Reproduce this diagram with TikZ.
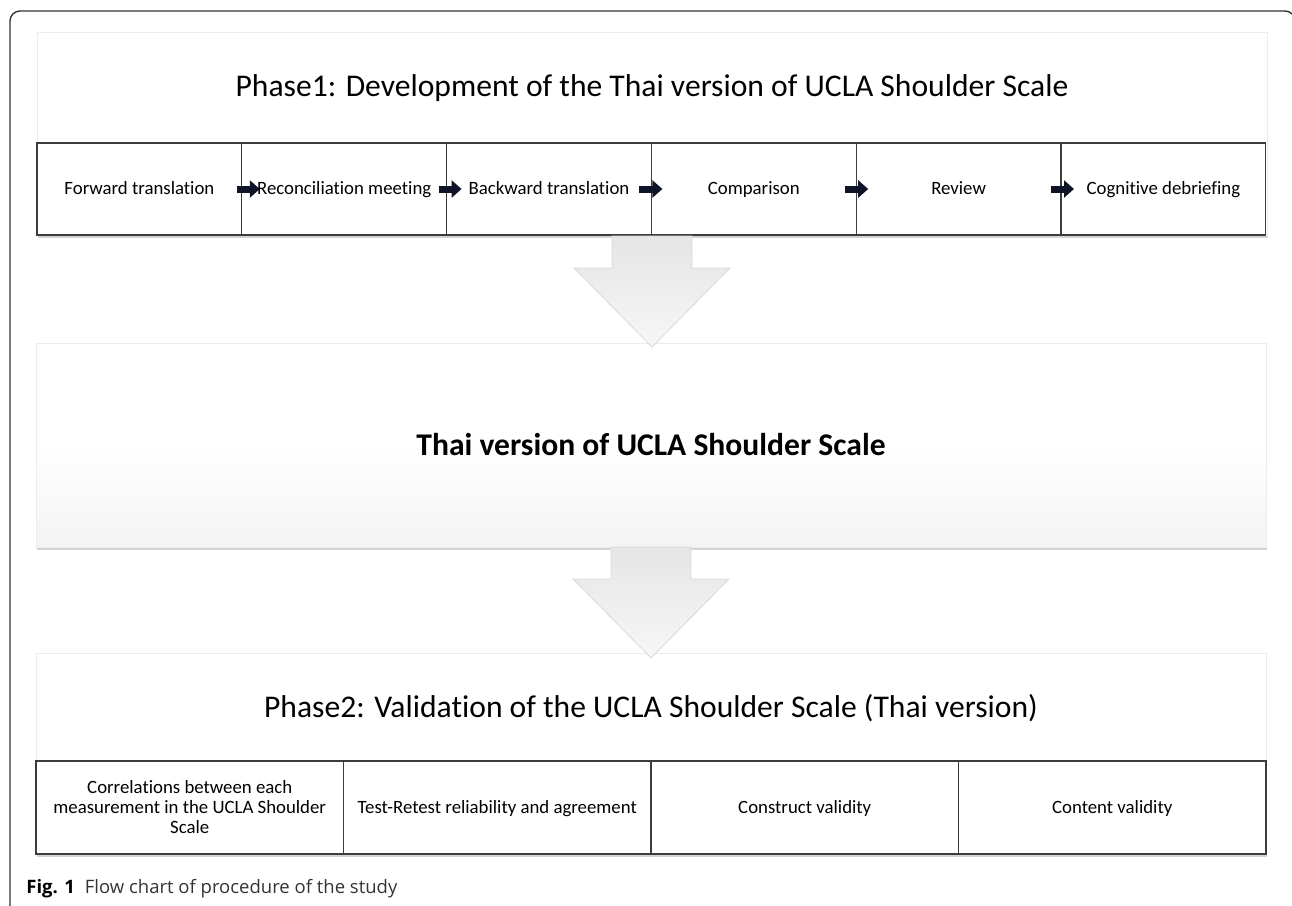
\documentclass[tikz,border=0pt]{standalone}
\usepackage{fontspec}
\setmainfont[Ligatures=NoCommon]{Carlito}
\newfontfamily\capfont{Open Sans}
\usetikzlibrary{arrows.meta,calc,positioning,shadows}
\definecolor{arrowink}{RGB}{16,20,40}
\definecolor{cellline}{RGB}{60,60,60}
\tikzset{%
	panel/.style    = {draw=gray!15, fill=white, minimum width=615pt, outer sep=0pt, drop shadow={shadow xshift=0.5pt, shadow yshift=-1.5pt, opacity=0.35}},
	cellA/.style    = {draw=cellline, line width=0.6pt, fill=white, minimum width=102.4pt, minimum height=46pt, inner sep=0pt, outer sep=0pt, font=\fontsize{9.4}{11}\selectfont, text height=6.5pt, text depth=1pt, text centered},
	cellB/.style    = {draw=cellline, line width=0.6pt, fill=white, minimum width=153.75pt, minimum height=46.5pt, inner sep=0pt, outer sep=0pt, font=\fontsize{9.4}{10}\selectfont, align=center},
	oneline/.style  = {text height=6.5pt, text depth=1pt},
	phase/.style    = {font=\fontsize{15.8}{18}\selectfont},
	steparrow/.style= {line width=3.5pt, draw=arrowink, -{Triangle[width=8.5pt,length=5pt]}},
	bigarrow/.style = {draw=gray!30, line width=0.4pt, top color=gray!20, bottom color=gray!7},
}
\begin{document}
\begin{tikzpicture}[x=0.5pt,y=-0.5pt]
	\useasboundingbox (0,0) rectangle (1292,906);
	% frame round the figure
	\draw[gray!40!black, line width=0.7pt, rounded corners=5pt] (10,930) -- (10,11) -- (1295,11) -- (1295,60);
	
	% phase 1
	\node[panel, minimum height=101.5pt, anchor=north west] (ph1) at (37,32) {};
	\node[phase] (t1) at ($(ph1.north)+(0,56)$) {Phase1: Development of the Thai version of UCLA Shoulder Scale};
	\node[cellA, anchor=north west] (c1) at (37,143) {Forward translation};
	\node[cellA, right=0pt of c1] (c2) {Reconciliation meeting};
	\node[cellA, right=0pt of c2] (c3) {Backward translation};
	\node[cellA, right=0pt of c3] (c4) {Comparison};
	\node[cellA, right=0pt of c4] (c5) {Review};
	\node[cellA, right=0pt of c5] (c6) {Cognitive debriefing};
	\foreach \a/\b/\s in {c1/c2/-5,c2/c3/-8,c3/c4/-12,c4/c5/-11,c5/c6/-10}
		\draw[steparrow] ($(\a.east)+(\s,0)$) -- ($(\b.west)+(\s+23,0)$);
	
	% scale
	\node[panel, minimum height=102pt, anchor=north west, top color=white, bottom color=gray!9, middle color=white,
		font=\fontsize{15.8}{18}\selectfont\bfseries] (thai) at (36,343) {Thai version of UCLA Shoulder Scale};
	
	% phase 2
	\node[panel, minimum height=100.5pt, anchor=north west] (ph2) at (36,653) {};
	\node[phase] (t2) at ($(ph2.north)+(0,55)$) {Phase2: Validation of the UCLA Shoulder Scale (Thai version)};
	\node[cellB, anchor=north west] (d1) at (36,761) {Correlations between each\\measurement in the UCLA Shoulder\\Scale};
	\node[cellB, oneline, right=0pt of d1] (d2) {Test-Retest reliability and agreement};
	\node[cellB, oneline, right=0pt of d2] (d3) {Construct validity};
	\node[cellB, oneline, right=0pt of d3] (d4) {Content validity};
	
	% big arrows
	\draw[bigarrow] ($(ph1.south)+(-40,1)$) -- ++(0,32) -- ++(-38,0) -- ($(ph1.south)+(0,112)$)
		-- ($(ph1.south)+(78,33)$) -- ++(-38,0) -- ++(0,-32) -- cycle;
	\draw[bigarrow] ($(thai.south)+(-40,0)$) -- ++(0,32) -- ++(-38,0) -- ($(thai.south)+(0,111)$)
		-- ($(thai.south)+(78,32)$) -- ++(-38,0) -- ++(0,-32) -- cycle;
	
	% caption
	\node[anchor=west, inner sep=0pt, font=\capfont\fontsize{9.25}{11}\selectfont] (cap) at (26,889)
		{\textbf{Fig. 1}\hspace{5pt}{\color{black!80}Flow chart of procedure of the study}};
\end{tikzpicture}
\end{document}
